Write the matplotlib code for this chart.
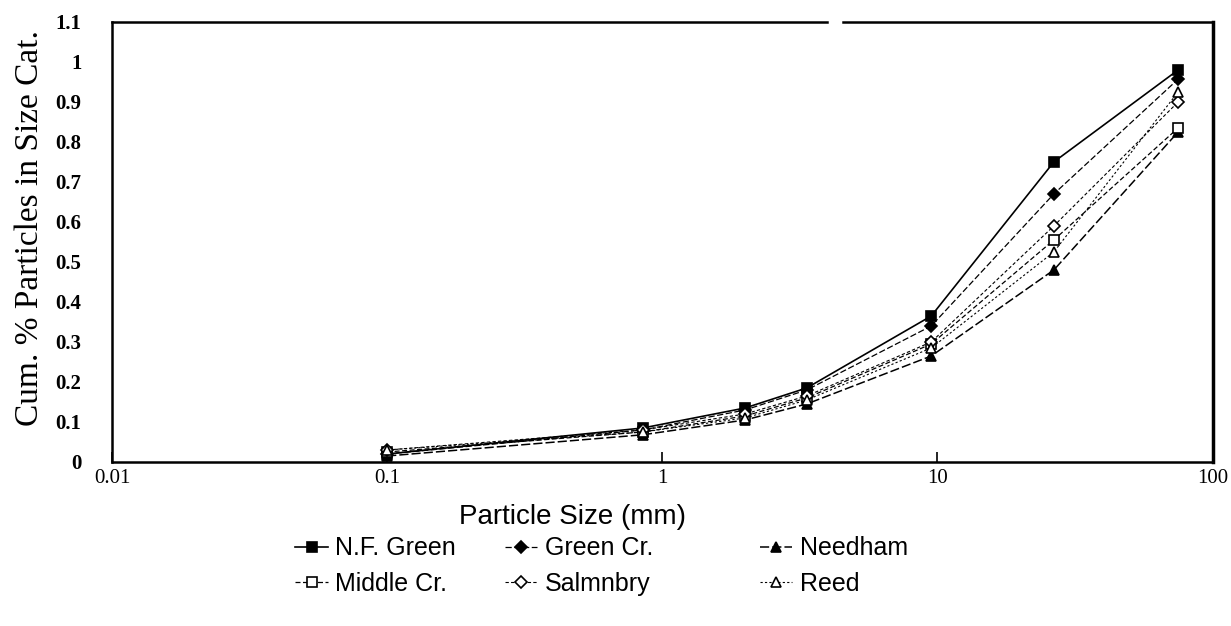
import matplotlib
matplotlib.use("Agg")
import matplotlib.pyplot as plt
from matplotlib.ticker import FixedLocator, NullFormatter

# sieve sizes (mm) and cumulative fraction passing for each stream
sizes = [0.1, 0.85, 2.0, 3.35, 9.5, 26.5, 75.0]

nf_green = [0.020, 0.085, 0.135, 0.185, 0.365, 0.750, 0.980]
green_cr = [0.020, 0.080, 0.130, 0.180, 0.340, 0.670, 0.957]
needham = [0.015, 0.068, 0.105, 0.145, 0.265, 0.480, 0.825]
middle_cr = [0.025, 0.075, 0.115, 0.160, 0.295, 0.555, 0.835]
salmnbry = [0.030, 0.080, 0.120, 0.165, 0.300, 0.590, 0.900]
reed = [0.030, 0.075, 0.110, 0.155, 0.285, 0.525, 0.925]

serif = ["Liberation Serif", "DejaVu Serif"]
sans = ["Liberation Sans", "DejaVu Sans"]

fig = plt.figure(figsize=(12.31, 6.26), dpi=100)
ax = fig.add_axes([0.091, 0.262, 0.894, 0.703])

series = [
    ("N.F. Green", nf_green, "s", "k", "-", 1.2),
    ("Green Cr.", green_cr, "D", "k", (0, (5, 2)), 0.9),
    ("Needham", needham, "^", "k", (0, (6, 2)), 1.1),
    ("Middle Cr.", middle_cr, "s", "w", (0, (4, 2)), 0.9),
    ("Salmnbry", salmnbry, "D", "w", (0, (3, 2)), 0.8),
    ("Reed", reed, "^", "w", (0, (2, 2)), 0.8),
]
lines = {}
for name, vals, mk, face, ls, lw in series:
    ms = 6 if mk == "D" else 7
    ln, = ax.plot(sizes, vals, linestyle=ls, color="k", lw=lw, marker=mk,
                  markersize=ms, markerfacecolor=face, markeredgecolor="k",
                  markeredgewidth=1.2, label=name)
    lines[name] = ln

ax.set_xscale("log")
ax.set_xlim(0.01, 100)
ax.set_ylim(0, 1.1)

ax.xaxis.set_major_locator(FixedLocator([0.01, 0.1, 1, 10, 100]))
ax.xaxis.set_minor_locator(FixedLocator([]))
ax.set_xticklabels(["0.01", "0.1", "1", "10", "100"], family=serif, fontsize=15)
ax.tick_params(axis="x", which="major", direction="in", length=7, width=1.2, pad=5)

yt = [round(0.1 * i, 1) for i in range(12)]
ax.yaxis.set_major_locator(FixedLocator(yt))
ax.set_yticklabels(["0", "0.1", "0.2", "0.3", "0.4", "0.5", "0.6", "0.7",
                    "0.8", "0.9", "1", "1.1"], family=serif, fontsize=15,
                   fontweight="bold")
ax.yaxis.set_minor_locator(FixedLocator([0.1, 0.3, 0.5, 0.7, 0.9]))
ax.yaxis.set_minor_formatter(NullFormatter())
ax.tick_params(axis="y", which="major", length=0, pad=22)
ax.tick_params(axis="y", which="minor", direction="in", length=8, width=1.2)

# frame: heavier right side, top edge broken near the right end
for side in ["left", "bottom"]:
    ax.spines[side].set_linewidth(1.8)
ax.spines["right"].set_linewidth(2.5)
ax.spines["top"].set_visible(False)
ax.plot([0, 0.650], [1, 1], color="k", lw=1.8, transform=ax.transAxes, clip_on=False)
ax.plot([0.664, 1], [1, 1], color="k", lw=1.8, transform=ax.transAxes, clip_on=False)

ax.set_xlabel("Particle Size (mm)", family=sans, fontsize=20)
ax.xaxis.set_label_coords(0.418, -0.095)
ax.set_ylabel("Cum. % Particles in Size Cat.", family=serif, fontsize=24)
ax.yaxis.set_label_coords(-0.061, 0.532)

# legend laid out as three columns, each its own two-row block
columns = [
    (["N.F. Green", "Middle Cr."], 0.240),
    (["Green Cr.", "Salmnbry"], 0.410),
    (["Needham", "Reed"], 0.617),
]
for names, x0 in columns:
    leg = fig.legend([lines[n] for n in names], names, loc="upper left",
                     bbox_to_anchor=(x0, 0.143), ncol=1, frameon=False,
                     prop={"family": sans, "size": 18}, handlelength=1.3,
                     labelspacing=0.45, handletextpad=0.3, borderaxespad=0,
                     borderpad=0)

fig.savefig("out.png", dpi=100, facecolor="white")
